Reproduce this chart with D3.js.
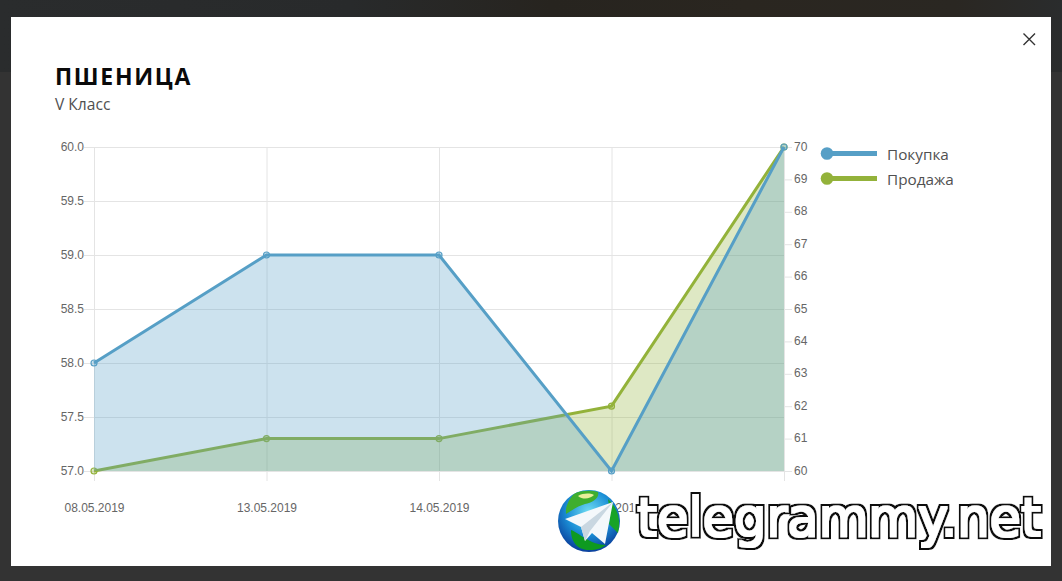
<!DOCTYPE html>
<html><head><meta charset="utf-8">
<script src="https://cdn.jsdelivr.net/npm/d3@7"></script>
<style>
html,body{margin:0;padding:0;background:#333;overflow:hidden}
svg{display:block}
text{font-family:"Liberation Sans",Arial,sans-serif}
</style></head><body>
<svg id="c" width="1062" height="581"></svg>
<script>
const categories=["08.05.2019","13.05.2019","14.05.2019","15.05.2019","20.05.2019"];
const buyValues=[58,59,59,57,60];
const sellValues=[60,61,61,62,70];
const leftTicks=[57,57.5,58,58.5,59,59.5,60];
const rightTicks=[60,61,62,63,64,65,66,67,68,69,70];
const seriesNames=["Покупка","Продажа"];
const title="ПШЕНИЦА", subtitle="V Класс", watermark="telegrammy.net";

const svg=d3.select("#c");
const defs=svg.append("defs");
const blue="#569fc6", green="#93b23a";
const W={l:94,r:784,t:147,b:471};

// page backdrop
const bg=defs.append("linearGradient").attr("id","bg");
[[0,"#2a2c2d"],[.33,"#282a2b"],[.52,"#27241f"],[.7,"#2a2620"],[.9,"#2a2722"],[1,"#2a2c2d"]].forEach(s=>bg.append("stop").attr("offset",s[0]).attr("stop-color",s[1]));
svg.append("rect").attr("width",1062).attr("height",581).attr("fill","#333333");
svg.append("rect").attr("width",1062).attr("height",72).attr("fill","url(#bg)");
svg.append("rect").attr("x",11).attr("y",17).attr("width",1040).attr("height",549).attr("fill","#fff");

svg.append("text").attr("x",55).attr("y",85).text(title)
  .style("font-family","'Open Sans'").style("font-weight",700).style("font-size","23px")
  .style("letter-spacing","1.7px").attr("fill","#0a0a0a");
svg.append("text").attr("x",55).attr("y",110).text(subtitle)
  .style("font-family","'Open Sans'").style("font-size","15.6px").attr("fill","#505050");

// close icon
svg.append("path").attr("d","M1023.5 33.5L1035 45M1035 33.5L1023.5 45").attr("stroke","#333").attr("stroke-width",1.4).attr("fill","none");

const x=d3.scalePoint().domain(categories).range([W.l,W.r]);
const yL=d3.scaleLinear().domain([57,60]).range([W.b,W.t]);
const yR=d3.scaleLinear().domain([60,70]).range([W.b,W.t]);

const tickColor="#666", gridColor="#e4e4e4";
// grid
const g=svg.append("g");
g.selectAll("line.h").data(leftTicks).join("line").attr("class","h")
 .attr("x1",W.l-10).attr("x2",W.r).attr("y1",d=>yL(d)+.5).attr("y2",d=>yL(d)+.5).attr("stroke",gridColor);
g.selectAll("line.v").data(categories).join("line").attr("class","v")
 .attr("x1",d=>x(d)+.5).attr("x2",d=>x(d)+.5).attr("y1",W.t).attr("y2",W.b+10).attr("stroke",gridColor);
g.selectAll("line.r").data(rightTicks).join("line").attr("class","r")
 .attr("x1",W.r).attr("x2",W.r+8).attr("y1",d=>yR(d)+.5).attr("y2",d=>yR(d)+.5).attr("stroke",gridColor);

// axes via d3
const axL=svg.append("g").attr("transform",`translate(${W.l},0)`)
 .call(d3.axisLeft(yL).tickValues(leftTicks).tickFormat(d3.format(".1f")).tickSize(0).tickPadding(10));
const axR=svg.append("g").attr("transform",`translate(${W.r},-0.8)`)
 .call(d3.axisRight(yR).tickValues(rightTicks).tickFormat(d3.format("d")).tickSize(0).tickPadding(10));
const axB=svg.append("g").attr("transform",`translate(0,${W.b})`)
 .call(d3.axisBottom(x).tickSize(0).tickPadding(32));
[axL,axR,axB].forEach(a=>{a.select(".domain").remove();
 a.selectAll("text").style("font-size","12px").attr("fill",tickColor).style("font-family","'Liberation Sans'");});

// areas and lines
const areaL=d3.area().x((d,i)=>x(categories[i])).y0(W.b).y1(d=>yL(d));
const areaR=d3.area().x((d,i)=>x(categories[i])).y0(W.b).y1(d=>yR(d));
const lineL=d3.line().x((d,i)=>x(categories[i])).y(d=>yL(d));
const lineR=d3.line().x((d,i)=>x(categories[i])).y(d=>yR(d));

svg.append("path").attr("d",areaR(sellValues)).attr("fill",green).attr("fill-opacity",.3);
svg.append("path").attr("d",lineR(sellValues)).attr("fill","none").attr("stroke",green).attr("stroke-width",3);
svg.selectAll("circle.s").data(sellValues).join("circle").attr("class","s")
 .attr("cx",(d,i)=>x(categories[i])).attr("cy",d=>yR(d)).attr("r",3).attr("fill",green).attr("fill-opacity",.3).attr("stroke",green).attr("stroke-width",1.2);
svg.append("path").attr("d",areaL(buyValues)).attr("fill",blue).attr("fill-opacity",.3);
svg.append("path").attr("d",lineL(buyValues)).attr("fill","none").attr("stroke",blue).attr("stroke-width",3);
svg.selectAll("circle.b").data(buyValues).join("circle").attr("class","b")
 .attr("cx",(d,i)=>x(categories[i])).attr("cy",d=>yL(d)).attr("r",3).attr("fill",blue).attr("fill-opacity",.3).attr("stroke",blue).attr("stroke-width",1.2);

// legend
const lg=svg.selectAll("g.l").data(seriesNames).join("g").attr("class","l")
 .attr("transform",(d,i)=>`translate(0,${153.5+i*25})`);
lg.append("line").attr("x1",827).attr("x2",877).attr("stroke",(d,i)=>[blue,green][i]).attr("stroke-width",5);
lg.append("circle").attr("cx",827).attr("r",6.3).attr("fill",(d,i)=>[blue,green][i]);
lg.append("text").attr("x",887).attr("y",6).text(d=>d)
 .style("font-family","'Open Sans'").style("font-size","15.3px").attr("fill","#505050");

// watermark
const wm=svg.append("g");
const gr=defs.append("radialGradient").attr("id","gl").attr("cx","50%").attr("cy","35%").attr("r","65%");
gr.append("stop").attr("offset","0").attr("stop-color","#6fdcf2");
gr.append("stop").attr("offset",".55").attr("stop-color","#1b8fd6");
gr.append("stop").attr("offset","1").attr("stop-color","#0a3f9c");
const f=defs.append("filter").attr("id","outline").attr("x","-5%").attr("y","-20%").attr("width","110%").attr("height","140%");
const layer=(r,col,name,blur)=>{
  f.append("feMorphology").attr("in","SourceAlpha").attr("operator","dilate").attr("radius",r).attr("result",name+"a");
  f.append("feGaussianBlur").attr("in",name+"a").attr("stdDeviation",blur).attr("result",name+"b");
  f.append("feFlood").attr("flood-color",col).attr("result",name+"c");
  f.append("feComposite").attr("in",name+"c").attr("in2",name+"b").attr("operator","in").attr("result",name);
};
layer(5,"#ffffff","halo",0.3);
layer(3,"#0d0d0d","dark",0.5);
layer(1,"#ffffff","core",0.3);
const m=f.append("feMerge");
["halo","dark","core"].forEach(n=>m.append("feMergeNode").attr("in",n));

wm.append("circle").attr("cx",589).attr("cy",521).attr("r",31).attr("fill","url(#gl)");
wm.append("path").attr("d","M574 494C580 490 592 490 598 492C600 498 592 503 585 504C578 506 572 510 566 514C565 507 569 499 574 494Z").attr("fill","#3fae2e");
wm.append("path").attr("d","M578 496C583 493 590 493 594 495C590 499 583 500 578 496Z").attr("fill","#e8ee9a");
wm.append("path").attr("d","M608 499C618 508 621 520 618 533L609 524C611 516 609 507 608 499Z").attr("fill","#18a326");
wm.append("path").attr("d","M571 530C578 532 590 545 606 545C600 550 586 553 577 546C572 541 571 535 571 530Z").attr("fill","#0e9a20");
wm.append("path").attr("d","M613 502L565 519L581 527L585 541L592 533L605 544Z").attr("fill","#f4f8fb");
wm.append("path").attr("d","M613 502L581 527L585 541L590 531Z").attr("fill","#c9d7e1");
wm.append("text").attr("x",637).attr("y",536).text(watermark)
 .style("font-family","'DejaVu Sans'").style("font-size","54px")
 .attr("textLength",404).attr("lengthAdjust","spacingAndGlyphs")
 .attr("fill","#fff").attr("filter","url(#outline)");
</script>
</body></html>
